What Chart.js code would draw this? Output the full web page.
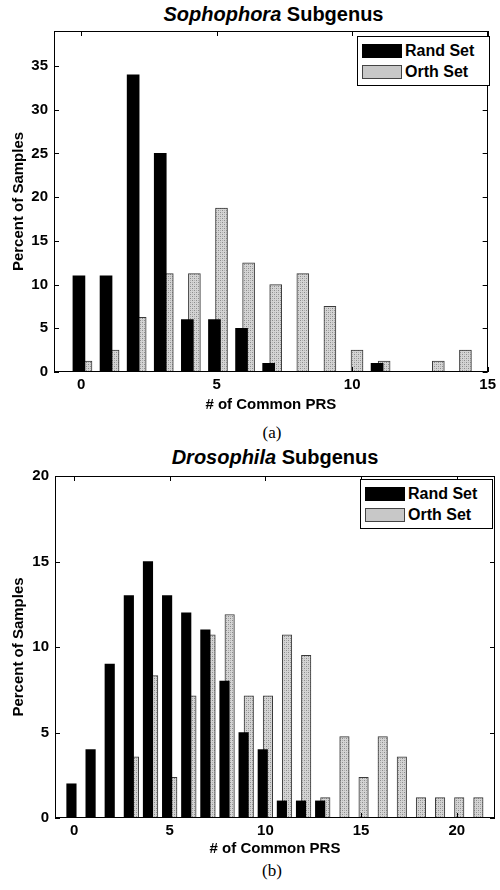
<!DOCTYPE html>
<html>
<head>
<meta charset="utf-8">
<script src="https://cdn.jsdelivr.net/npm/chart.js@4.4.0/dist/chart.umd.min.js"></script>
<style>
  body { margin: 0; background: #fff; width: 500px; height: 890px; position: relative; overflow: hidden;
         font-family: "Liberation Sans", Arial, sans-serif; }
  canvas { position: absolute; left: 0; }
  .title { position: absolute; text-align: center; font-weight: bold; font-size: 20px; color: #000; white-space: nowrap; }
  .cap { position: absolute; left: 0; width: 500px; text-align: center; font-family: "Liberation Serif", serif; font-size: 17px; }
  .legend { position: absolute; border: 1px solid #000; background: #fff; font-weight: bold; font-size: 16px; padding: 3px 4px 3px 4px; }
  .legend div { height: 21px; line-height: 21px; white-space: nowrap; }
  .legend span.sw { display: inline-block; width: 40px; height: 14px; vertical-align: -2px; margin-right: 3px; box-sizing: border-box; }
  .sw.rand { background: #000; }
  .sw.orth { border: 1px solid #444; background: #c8c8c8; }
</style>
</head>
<body>
<div class="title" style="left:54px; width:439px; top:3px;"><i>Sophophora</i> Subgenus</div>
<canvas id="topChart" width="500" height="420" style="top:0px"></canvas>
<div class="legend" style="left:357px; top:36px; width:123px;">
  <div><span class="sw rand"></span>Rand Set</div>
  <div><span class="sw orth"></span>Orth Set</div>
</div>
<div class="cap" style="top:423px; left:22px;">(a)</div>

<div class="title" style="left:55px; width:440px; top:446px;"><i>Drosophila</i> Subgenus</div>
<canvas id="botChart" width="500" height="420" style="top:440px"></canvas>
<div class="legend" style="left:360px; top:479px; width:123px;">
  <div><span class="sw rand"></span>Rand Set</div>
  <div><span class="sw orth"></span>Orth Set</div>
</div>
<div class="cap" style="top:861px; left:22px;">(b)</div>

<script>
// (a) Sophophora subgenus
const topCounts = [0, 1, 2, 3, 4, 5, 6, 7, 8, 9, 10, 11, 12, 13, 14];
const topRand = [11, 11, 34, 25, 6, 6, 5, 1, 0, 0, 0, 1, 0, 0, 0];
const topOrth = [1.25, 2.5, 6.25, 11.25, 11.25, 18.75, 12.5, 10, 11.25, 7.5, 2.5, 1.25, 0, 1.25, 2.5];
const topXTicks = [0, 5, 10, 15];
const topYTicks = [0, 5, 10, 15, 20, 25, 30, 35];

// (b) Drosophila subgenus
const botCounts = [0, 1, 2, 3, 4, 5, 6, 7, 8, 9, 10, 11, 12, 13, 14, 15, 16, 17, 18, 19, 20, 21];
const botRand = [2, 4, 9, 13, 15, 13, 12, 11, 8, 5, 4, 1, 1, 1, 0, 0, 0, 0, 0, 0, 0, 0];
const botOrth = [0, 0, 0, 3.57, 8.33, 2.38, 7.14, 10.71, 11.9, 7.14, 7.14, 10.71, 9.52, 1.19, 4.76, 2.38, 4.76, 3.57, 1.19, 1.19, 1.19, 1.19];
const botXTicks = [0, 5, 10, 15, 20];
const botYTicks = [0, 5, 10, 15, 20];

const seriesNames = ['Rand Set', 'Orth Set'];
const xTitle = '# of Common PRS';
const yTitle = 'Percent of Samples';

// stippled grey fill like the printed figure
function stipple() {
  const c = document.createElement('canvas');
  c.width = 4; c.height = 4;
  const g = c.getContext('2d');
  g.fillStyle = '#d4d4d4';
  g.fillRect(0, 0, 4, 4);
  g.fillStyle = '#8c8c8c';
  g.fillRect(0, 0, 1, 1);
  g.fillRect(2, 2, 1, 1);
  g.fillStyle = '#b0b0b0';
  g.fillRect(2, 0, 1, 1);
  g.fillRect(0, 2, 1, 1);
  return g.createPattern(c, 'repeat');
}

// box around the axes and inward tick marks on all four sides (matlab style)
const frameTicks = {
  id: 'frameTicks',
  afterDatasetsDraw(chart) {
    const { ctx, chartArea: a } = chart;
    const x = chart.scales.x, y = chart.scales.y;
    ctx.save();
    ctx.strokeStyle = '#000';
    ctx.lineWidth = 1;
    ctx.strokeRect(Math.round(a.left) + 0.5, Math.round(a.top) + 0.5, Math.round(a.width) - 1, Math.round(a.height) - 1);
    ctx.beginPath();
    x.ticks.forEach(t => {
      const px = Math.round(x.getPixelForValue(t.value)) + 0.5;
      ctx.moveTo(px, a.bottom); ctx.lineTo(px, a.bottom - 5);
      ctx.moveTo(px, a.top); ctx.lineTo(px, a.top + 5);
    });
    y.ticks.forEach(t => {
      const py = Math.round(y.getPixelForValue(t.value)) + 0.5;
      ctx.moveTo(a.left, py); ctx.lineTo(a.left + 5, py);
      ctx.moveTo(a.right, py); ctx.lineTo(a.right - 5, py);
    });
    ctx.stroke();
    ctx.restore();
  }
};

function points(counts, vals, shift) {
  return counts.map((c, i) => ({ x: c + shift, y: vals[i] })).filter(p => p.y > 0);
}

function makeChart(id, counts, rand, orth, xTicks, yTicks, o) {
  const font = { family: '"Liberation Sans", Arial, sans-serif', size: 15, weight: 'bold' };
  return new Chart(document.getElementById(id), {
    type: 'bar',
    data: {
      datasets: [
        {
          label: seriesNames[0],
          data: points(counts, rand, o.randShift),
          backgroundColor: '#000',
          borderWidth: 0,
          barThickness: o.bar,
          grouped: false
        },
        {
          label: seriesNames[1],
          data: points(counts, orth, o.orthShift),
          backgroundColor: stipple(),
          borderColor: '#3a3a3a',
          borderWidth: 1,
          borderSkipped: 'bottom',
          barThickness: o.bar,
          grouped: false
        }
      ]
    },
    options: {
      responsive: false,
      animation: false,
      devicePixelRatio: 1,
      layout: { padding: o.padding },
      plugins: { legend: { display: false }, tooltip: { enabled: false } },
      scales: {
        x: {
          type: 'linear',
          min: o.xMin,
          max: o.xMax,
          offset: false,
          grid: { display: false, offset: false, drawTicks: false, tickLength: 0 },
          border: { display: false },
          afterBuildTicks: s => { s.ticks = xTicks.map(v => ({ value: v })); },
          afterFit: s => { s.height = o.xHeight; },
          ticks: { color: '#000', font: font, padding: 4, maxRotation: 0 },
          title: { display: true, text: xTitle, color: '#000', font: font, padding: { top: 0, bottom: o.xTitlePad } }
        },
        y: {
          min: 0,
          max: o.yMax,
          grid: { display: false, drawTicks: false, tickLength: 0 },
          border: { display: false },
          afterBuildTicks: s => { s.ticks = yTicks.map(v => ({ value: v })); },
          afterFit: s => { s.width = o.yWidth; },
          ticks: { color: '#000', font: font, padding: 6 },
          title: { display: true, text: yTitle, color: '#000', font: font, padding: { top: 10, bottom: 0 } }
        }
      }
    },
    plugins: [frameTicks]
  });
}

makeChart('topChart', topCounts, topRand, topOrth, topXTicks, topYTicks, {
  xMin: -1, xMax: 15, yMax: 39, bar: 12, randShift: -0.08, orthShift: 0.18,
  padding: { left: 0, top: 31, right: 7, bottom: 0 }, yWidth: 54, xHeight: 48, xTitlePad: 6
});

makeChart('botChart', botCounts, botRand, botOrth, botXTicks, botYTicks, {
  xMin: -1, xMax: 22, yMax: 20, bar: 9.5, randShift: -0.14, orthShift: 0.13,
  padding: { left: 0, top: 36, right: 5, bottom: 0 }, yWidth: 55, xHeight: 42, xTitlePad: 2
});
</script>
</body>
</html>
